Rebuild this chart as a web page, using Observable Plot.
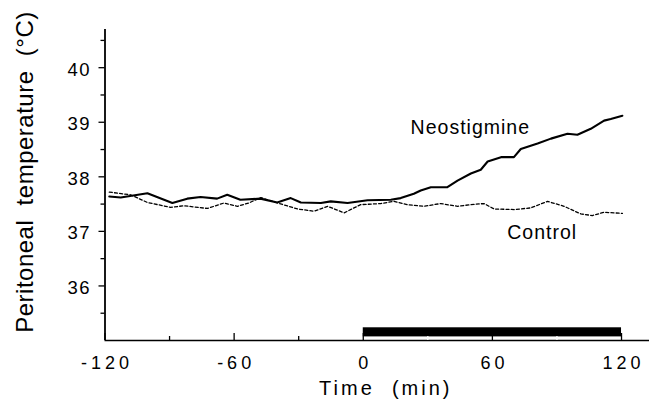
<!DOCTYPE html>
<html>
<head>
<meta charset="utf-8">
<script src="https://cdn.jsdelivr.net/npm/d3@7"></script>
<script src="https://cdn.jsdelivr.net/npm/@observablehq/plot@0.6"></script>
<style>
  html, body { margin: 0; padding: 0; background: #fff; }
  #chart svg { display: block; }
  #chart text { white-space: pre; }
  #chart g[aria-label="y-axis tick label"] text { letter-spacing: 1.5px; }
  #chart g[aria-label="x-axis tick label"] text { letter-spacing: 4px; }
</style>
</head>
<body>
<div id="chart"></div>
<script>
// ---- data ----
const neoTime = [-118, -112.7, -100.3, -88.7, -81.8, -75.6, -67.9, -63.2, -57.1, -47.8, -40, -33.7, -29, -19.7, -15.1, -7.3, 2, 12.8, 17.4, 23.5, 26.7, 31.4, 39.1, 43.8, 50, 54.6, 57.8, 64, 70, 73.2, 81, 87.2, 94.9, 99.5, 105.7, 111.9, 115, 120.4];
const neoTemp = [37.64, 37.62, 37.70, 37.52, 37.60, 37.63, 37.60, 37.67, 37.58, 37.60, 37.53, 37.61, 37.53, 37.52, 37.55, 37.52, 37.57, 37.58, 37.61, 37.69, 37.75, 37.81, 37.81, 37.93, 38.06, 38.13, 38.28, 38.36, 38.36, 38.51, 38.61, 38.70, 38.79, 38.77, 38.88, 39.03, 39.06, 39.12];
const ctlTime = [-118, -108.1, -100.3, -89.5, -83.3, -72.4, -64.7, -58.4, -53.2, -47.6, -39.8, -30.5, -22.8, -16.6, -8.9, -1.2, 8.1, 14.2, 20.5, 28.1, 36, 43.8, 50, 56.1, 60.8, 70.1, 77.8, 85.6, 93.3, 101.1, 106.5, 111.9, 120.4];
const ctlTemp = [37.72, 37.67, 37.53, 37.44, 37.47, 37.42, 37.52, 37.46, 37.52, 37.62, 37.52, 37.41, 37.37, 37.46, 37.34, 37.49, 37.51, 37.55, 37.49, 37.46, 37.51, 37.46, 37.49, 37.51, 37.41, 37.40, 37.43, 37.55, 37.46, 37.32, 37.29, 37.35, 37.33];
const seriesNames = ["Neostigmine", "Control"];
const infusion = [{start: 0, end: 120}];
const xMajor = [-120, -60, 0, 60, 120];
const xMinor = [-90, -30, 30, 90];
const yMajor = [36, 37, 38, 39, 40];
const yMinor = [35.5, 36.5, 37.5, 38.5, 39.5, 40.5];
const xTitle = "Time  (min)";
const yTitle = "Peritoneal  temperature  (°C)";

// ---- build ----
const neo = neoTime.map((t, i) => ({t, v: neoTemp[i]}));
const ctl = ctlTime.map((t, i) => ({t, v: ctlTemp[i]}));
const xDomain = [-120, 133];
const yDomain = [35, 40.7];
const font = "'Liberation Sans', Arial, Helvetica, sans-serif";

const chart = Plot.plot({
  width: 650,
  height: 407,
  marginLeft: 104.5,
  marginRight: 1,
  marginTop: 29,
  marginBottom: 67,
  x: {domain: xDomain},
  y: {domain: yDomain},
  style: {fontFamily: font, background: "#fff", color: "#000", overflow: "visible"},
  marks: [
    // infusion bar
    Plot.rect(infusion, {x1: "start", x2: "end", y1: 35.066, y2: 35.233, fill: "#000"}),
    // axis lines
    Plot.ruleX([xDomain[0]], {strokeWidth: 1.8}),
    Plot.ruleY([yDomain[0]], {strokeWidth: 1.6}),
    // y ticks (outward)
    Plot.ruleY(yMajor, {y: d => d, x1: xDomain[0], x2: xDomain[0], insetLeft: -6, strokeWidth: 1.3}),
    Plot.ruleY(yMinor, {y: d => d, x1: xDomain[0], x2: xDomain[0], insetLeft: -4, strokeWidth: 1.3}),
    // x ticks (inward)
    Plot.ruleX(xMajor, {x: d => d, y1: yDomain[0], y2: yDomain[0], insetTop: -7, strokeWidth: 1.3}),
    Plot.ruleX(xMinor, {x: d => d, y1: yDomain[0], y2: yDomain[0], insetTop: -4, strokeWidth: 1.3, stroke: d => d > 0 ? "#fff" : "#000"}),
    // axis labels
    Plot.axisY(yMajor, {tickSize: 0, tickPadding: 14, fontSize: 18.5, dy: 2, label: null, tickFormat: d => String(d)}),
    Plot.axisX(xMajor, {tickSize: 0, tickPadding: 16, fontSize: 18, dx: 2, label: null, tickFormat: d => String(d)}),
    // lines
    Plot.line(ctl, {x: "t", y: "v", stroke: "#000", strokeWidth: 1.3, strokeDasharray: "3,2.2"}),
    Plot.line(neo, {x: "t", y: "v", stroke: "#000", strokeWidth: 2.1}),
    // series labels
    Plot.text([seriesNames[0]], {x: 49.5, y: 38.90, text: d => d, fontSize: 19.5, lineAnchor: "middle", dx: 0.5}),
    Plot.text([seriesNames[1]], {x: 82.9, y: 36.97, text: d => d, fontSize: 19.5, lineAnchor: "middle", dx: 0.5}),
    // titles
    Plot.text([xTitle], {frameAnchor: "bottom", textAnchor: "middle", text: d => d, fontSize: 20, lineAnchor: "middle", dx: 8.5, dy: 48}),
    Plot.text([yTitle], {frameAnchor: "left", textAnchor: "middle", text: d => d, fontSize: 24, rotate: -90, lineAnchor: "middle", dx: -79.5, dy: -13})
  ]
});
const spacing = new Map([
  [seriesNames[0], "1px"],
  [seriesNames[1], "1px"],
  [xTitle, "3px"],
  [yTitle, "0.5px"]
]);
chart.querySelectorAll("text").forEach(t => {
  t.setAttribute("xml:space", "preserve");
  const s = spacing.get(t.textContent);
  if (s) t.style.letterSpacing = s;
});
document.getElementById("chart").appendChild(chart);
</script>
</body>
</html>
